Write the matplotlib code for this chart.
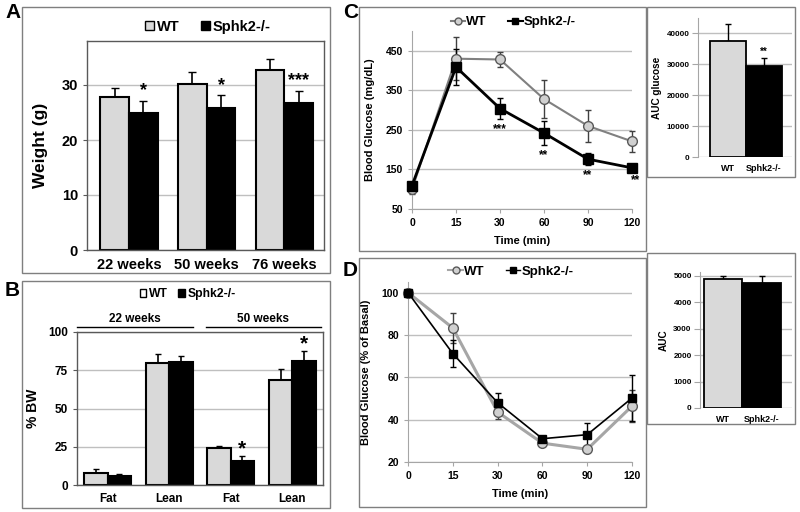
import matplotlib
matplotlib.use("Agg")
import matplotlib.pyplot as plt
import numpy as np
from matplotlib.patches import Rectangle, Patch
from matplotlib.lines import Line2D

plt.rcParams['font.family'] = ['Liberation Sans', 'DejaVu Sans']
plt.rcParams['font.weight'] = 'bold'

# ---------------- data ----------------
a_cats = ["22 weeks", "50 weeks", "76 weeks"]
a_wt = [27.8, 30.1, 32.7]
a_wt_err = [1.6, 2.2, 2.1]
a_ko = [24.9, 25.9, 26.8]
a_ko_err = [2.2, 2.2, 2.1]
a_sig = ["*", "*", "***"]

b_cats = ["Fat", "Lean", "Fat", "Lean"]
b_groups = ["22 weeks", "50 weeks"]
b_wt = [8.0, 79.5, 24.5, 68.5]
b_wt_err = [2.5, 6.0, 1.3, 7.0]
b_ko = [6.0, 80.5, 16.0, 81.0]
b_ko_err = [1.5, 4.0, 2.7, 6.5]
b_sig = ["", "", "*", "*"]

time_labels = ["0", "15", "30", "60", "90", "120"]
c_wt = [100, 430, 428, 328, 260, 221]
c_wt_err = [12, 55, 18, 48, 40, 26]
c_ko = [109, 409, 304, 242, 176, 154]
c_ko_err = [8, 45, 27, 31, 15, 7]
c_sig = ["", "", "***", "**", "**", "**"]

auc_labels = ["WT", "Sphk2-/-"]
c_auc = [37400, 29500]
c_auc_err = [5500, 2500]
c_auc_sig = ["", "**"]

d_wt = [100, 83.3, 43.6, 28.9, 26.0, 46.4]
d_wt_err = [0, 7.2, 3.2, 1.5, 0.8, 7.6]
d_ko = [100, 71.2, 48.0, 31.0, 32.9, 50.2]
d_ko_err = [0, 6.5, 4.5, 1.5, 5.7, 11.0]

d_auc = [4880, 4720]
d_auc_err = [120, 280]

WT_C = '#d9d9d9'
KO_C = 'black'
GRID_C = '#bfbfbf'
BOX_C = '#7f7f7f'

fig = plt.figure(figsize=(8, 5.12), dpi=100)
W, H = 800, 512

def add_ax(l, t, r, b):
    return fig.add_axes([l / W, 1 - b / H, (r - l) / W, (b - t) / H])

def box(l, t, r, b):
    fig.patches.append(Rectangle((l / W, 1 - b / H), (r - l) / W, (b - t) / H,
                                 transform=fig.transFigure, fill=False,
                                 edgecolor=BOX_C, lw=1.0, zorder=0))

for bx in [(22, 7, 330, 273), (22, 281, 330, 508), (359, 7, 646, 251),
           (647, 7, 795, 177), (359, 258, 646, 507), (647, 253, 795, 424)]:
    box(*bx)

fig.text(5 / W, 1 - 13 / H, "A", fontsize=15, fontweight='bold', va='center')
fig.text(5 / W, 1 - 291 / H, "B", fontsize=15, fontweight='bold', va='center')
fig.text(343 / W, 1 - 13 / H, "C", fontsize=15, fontweight='bold', va='center')
fig.text(343 / W, 1 - 270 / H, "D", fontsize=15, fontweight='bold', va='center')

def style_bar_axes(ax, fs):
    ax.set_axisbelow(True)
    ax.yaxis.grid(True, color=GRID_C, lw=1)
    for s in ax.spines.values():
        s.set_color('#595959')
        s.set_linewidth(1)
    ax.tick_params(axis='x', length=0, labelsize=fs, pad=6)
    ax.tick_params(axis='y', length=3, labelsize=fs, color='#595959')

# ---------------- Panel A ----------------
ax = add_ax(87, 41, 324, 250)
x = np.arange(len(a_cats))
w = 0.37
ax.bar(x - w / 2, a_wt, w, color=WT_C, edgecolor='black', lw=1.5, zorder=2)
ax.bar(x + w / 2, a_ko, w, color=KO_C, edgecolor='black', lw=1.5, zorder=2)
ax.errorbar(x - w / 2, a_wt, yerr=[np.zeros(3), a_wt_err], fmt='none',
            ecolor='black', elinewidth=1.2, capsize=3, zorder=1)
ax.errorbar(x + w / 2, a_ko, yerr=[np.zeros(3), a_ko_err], fmt='none',
            ecolor='black', elinewidth=1.2, capsize=3, zorder=1)
for xi, v, e, s in zip(x, a_ko, a_ko_err, a_sig):
    ax.text(xi + w / 2, v + e + 0.3, s, ha='center', va='bottom', fontsize=13, fontweight='bold')
ax.set_xlim(-0.54, 2.51)
ax.set_ylim(0, 38)
ax.set_yticks([0, 10, 20, 30])
ax.set_xticks(x)
ax.set_xticklabels(a_cats)
style_bar_axes(ax, 10.5)
ax.set_ylabel("Weight (g)", fontsize=12.5, fontweight='bold', labelpad=10)
ax.legend([Patch(facecolor=WT_C, edgecolor='black'), Patch(facecolor='black', edgecolor='black')],
          ["WT", "Sphk2-/-"], ncol=2, frameon=False, loc='center',
          bbox_to_anchor=(0.51, 1.067), handlelength=0.6, handleheight=0.6,
          handletextpad=0.2, columnspacing=1.5, prop={'weight': 'bold', 'size': 10.5})

# ---------------- Panel B ----------------
ax = add_ax(77, 332, 323, 485)
x = np.arange(len(b_cats))
w = 0.38
ax.bar(x - w / 2, b_wt, w, color=WT_C, edgecolor='black', lw=1.5, zorder=2)
ax.bar(x + w / 2, b_ko, w, color=KO_C, edgecolor='black', lw=1.5, zorder=2)
ax.errorbar(x - w / 2, b_wt, yerr=[np.zeros(4), b_wt_err], fmt='none',
            ecolor='black', elinewidth=1.2, capsize=2.5, zorder=1)
ax.errorbar(x + w / 2, b_ko, yerr=[np.zeros(4), b_ko_err], fmt='none',
            ecolor='black', elinewidth=1.2, capsize=2.5, zorder=1)
for xi, v, e, s in zip(x, b_ko, b_ko_err, b_sig):
    if s:
        ax.text(xi + w / 2, v + e - 1.5, s, ha='center', va='bottom', fontsize=15, fontweight='bold')
ax.set_xlim(-0.5, 3.5)
ax.set_ylim(0, 100)
ax.set_yticks([0, 25, 50, 75, 100])
ax.set_xticks(x)
ax.set_xticklabels(b_cats)
style_bar_axes(ax, 8.5)
ax.set_ylabel("% BW", fontsize=10, fontweight='bold', labelpad=6)
tr = ax.get_xaxis_transform()
for gi, g in enumerate(b_groups):
    x0 = 2 * gi - 0.5 + (0.0 if gi == 0 else 0.09)
    x1 = 2 * gi + 1.38 + (0.0 if gi == 0 else 0.09)
    ax.plot([x0, x1], [1.033, 1.033], color='black', lw=1, transform=tr, clip_on=False)
    ax.text((x0 + x1) / 2, 1.045, g, transform=tr, ha='center', va='bottom', fontsize=8.5, fontweight='bold')
ax.legend([Patch(facecolor='white', edgecolor='black'), Patch(facecolor='black', edgecolor='black')],
          ["WT", "Sphk2-/-"], ncol=2, frameon=False, loc='center',
          bbox_to_anchor=(0.45, 1.246), handlelength=0.55, handleheight=0.55,
          handletextpad=0.2, columnspacing=0.9, prop={'weight': 'bold', 'size': 8.7})

# ---------------- line panel helper ----------------
def line_axes(ax, ylim, yticks, fs):
    ax.set_xlim(0, 5)
    ax.set_ylim(*ylim)
    ax.set_yticks(yticks)
    ax.set_xticks(np.arange(6))
    ax.set_xticklabels(time_labels)
    ax.yaxis.grid(True, color=GRID_C, lw=1)
    ax.set_axisbelow(True)
    for s in ['top', 'right']:
        ax.spines[s].set_visible(False)
    ax.spines['left'].set_color('#a6a6a6')
    ax.spines['bottom'].set_color('#a6a6a6')
    ax.tick_params(axis='both', labelsize=fs, length=3, color='#a6a6a6')
    ax.set_xlabel("Time (min)", fontsize=fs + 0.5, fontweight='bold', labelpad=6)

# ---------------- Panel C ----------------
ax = add_ax(412, 31, 632, 209)
t = np.arange(6)
ax.errorbar(t, c_wt, yerr=c_wt_err, fmt='none', ecolor='#404040', elinewidth=1, capsize=2, zorder=2, clip_on=False)
ax.errorbar(t, c_ko, yerr=c_ko_err, fmt='none', ecolor='black', elinewidth=1, capsize=2, zorder=2, clip_on=False)
ax.plot(t, c_wt, color='#808080', lw=1.5, marker='o', ms=7, mfc='#d0d0d0', mec='#595959', mew=1, zorder=3, clip_on=False)
ax.plot(t, c_ko, color='black', lw=2, marker='s', ms=7, mfc='black', mec='black', zorder=4, clip_on=False)
for ti, v, e, s in zip(t, c_ko, c_ko_err, c_sig):
    if s:
        off = 0.08 if ti == 5 else 0
        ax.text(ti + off, v - e - 10, s, ha='center', va='top', fontsize=8.5, fontweight='bold')
line_axes(ax, (50, 500), [50, 150, 250, 350, 450], 7.5)
ax.set_ylabel("Blood Glucose (mg/dL)", fontsize=8, fontweight='bold', labelpad=8)
ax.legend([Line2D([], [], color='#808080', marker='o', mfc='#d0d0d0', mec='#595959', ms=5),
           Line2D([], [], color='black', lw=1.5, marker='s', mfc='black', ms=5)],
          ["WT", "Sphk2-/-"], ncol=2, frameon=False, loc='center', bbox_to_anchor=(0.46, 1.05),
          handlelength=1.1, handletextpad=0.1, columnspacing=1.6, prop={'weight': 'bold', 'size': 9.5})

# ---------------- Panel D ----------------
ax = add_ax(408, 282, 632, 462)
ax.errorbar(t, d_wt, yerr=d_wt_err, fmt='none', ecolor='#404040', elinewidth=1, capsize=2, zorder=2, clip_on=False)
ax.errorbar(t, d_ko, yerr=d_ko_err, fmt='none', ecolor='black', elinewidth=1, capsize=2, zorder=2, clip_on=False)
ax.plot(t, d_wt, color='#a6a6a6', lw=2.2, marker='o', ms=7, mfc='#d0d0d0', mec='#595959', mew=1, zorder=3, clip_on=False)
ax.plot(t, d_ko, color='black', lw=1.2, marker='s', ms=6, mfc='black', mec='black', zorder=4, clip_on=False)
line_axes(ax, (20, 105), [20, 40, 60, 80, 100], 7.5)
ax.set_ylabel("Blood Glucose (% of Basal)", fontsize=8, fontweight='bold', labelpad=8)
ax.legend([Line2D([], [], color='#a6a6a6', lw=1.5, marker='o', mfc='#d0d0d0', mec='#595959', ms=5),
           Line2D([], [], color='black', lw=1, marker='s', mfc='black', ms=4.5)],
          ["WT", "Sphk2-/-"], ncol=2, frameon=False, loc='center', bbox_to_anchor=(0.46, 1.056),
          handlelength=1.1, handletextpad=0.1, columnspacing=1.6, prop={'weight': 'bold', 'size': 9.5})

# ---------------- insets ----------------
def inset(l, t_, r, b, vals, errs, ylim, yticks, xlim, ylabel, sig=None):
    ax = add_ax(l, t_, r, b)
    xx = np.arange(2)
    ax.bar(xx, vals, 1.0, color=[WT_C, KO_C], edgecolor='black', lw=1.3, zorder=2)
    ax.errorbar(xx, vals, yerr=[np.zeros(2), errs], fmt='none', ecolor='black', elinewidth=1, capsize=2, zorder=1)
    if sig:
        for xi, v, e, s in zip(xx, vals, errs, sig):
            if s:
                ax.text(xi, v + e + ylim[1] * 0.01, s, ha='center', va='bottom', fontsize=7, fontweight='bold')
    ax.set_xlim(*xlim)
    ax.set_ylim(*ylim)
    ax.set_yticks(yticks)
    ax.set_xticks(xx)
    ax.set_xticklabels(auc_labels)
    ax.yaxis.grid(True, color=GRID_C, lw=1)
    ax.set_axisbelow(True)
    for s in ['top', 'right', 'bottom']:
        ax.spines[s].set_visible(False)
    ax.spines['left'].set_color('#a6a6a6')
    ax.tick_params(axis='y', labelsize=5.8, length=4, color='#a6a6a6', pad=2)
    ax.tick_params(axis='x', labelsize=6.5, length=0, pad=5)
    ax.set_ylabel(ylabel, fontsize=7.2, fontweight='bold', labelpad=3)
    return ax

inset(698, 18, 792, 157, c_auc, c_auc_err, (0, 45000), [0, 10000, 20000, 30000, 40000],
      (-0.83, 1.78), "AUC glucose", c_auc_sig)
inset(700, 272, 792, 408, d_auc, d_auc_err, (0, 5150), [0, 1000, 2000, 3000, 4000, 5000],
      (-0.59, 1.77), "AUC")

fig.savefig("out.png", dpi=100)
